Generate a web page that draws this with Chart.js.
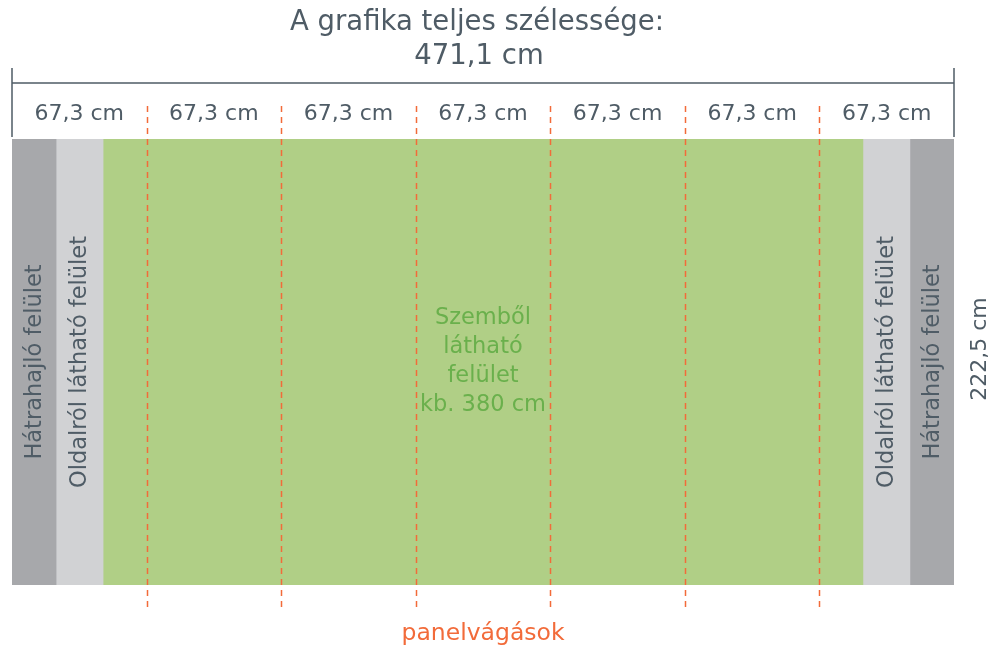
<!DOCTYPE html>
<html>
<head>
<meta charset="utf-8">
<script src="https://cdn.jsdelivr.net/npm/chart.js@4/dist/chart.umd.min.js"></script>
<style>
  body { margin: 0; background: #fff; }
  #wrap { width: 992px; height: 648px; }
</style>
</head>
<body>
<div id="wrap"><canvas id="graphic" width="992" height="648"></canvas></div>
<script>
// sizes in cm
const totalWidth = 471.1;
const totalHeight = 222.5;
const bandNames = ['Hátrahajló felület', 'Oldalról látható felület', 'Szemből látható felület', 'Oldalról látható felület', 'Hátrahajló felület'];
const bandWidths = [22.05, 23.5, 380, 23.5, 22.05];
const bandColors = ['#a7a8ab', '#d1d2d4', '#b0cf86', '#d1d2d4', '#a7a8ab'];
const panelWidths = [67.3, 67.3, 67.3, 67.3, 67.3, 67.3, 67.3];
const panelLabels = ['67,3 cm', '67,3 cm', '67,3 cm', '67,3 cm', '67,3 cm', '67,3 cm', '67,3 cm'];
const titleLines = ['A grafika teljes szélessége:', '471,1 cm'];
const heightLabel = '222,5 cm';
const frontLines = ['Szemből', 'látható', 'felület', 'kb. 380 cm'];
const cutLabel = 'panelvágások';

const textColor = '#4f5c66';
const cutColor = '#f26b3a';
const fontFam = '"DejaVu Sans", sans-serif';

const datasets = bandWidths.map((w, i) => ({
    label: bandNames[i],
    data: [w],
    backgroundColor: bandColors[i],
    borderWidth: 0,
    barPercentage: 1,
    categoryPercentage: 1
}));

const overlay = {
    id: 'overlay',
    afterDatasetsDraw(chart) {
        const ctx = chart.ctx;
        const xs = chart.scales.x;
        const area = chart.chartArea;
        const left = xs.getPixelForValue(0);
        const right = xs.getPixelForValue(totalWidth);
        const midX = (left + right) / 2;
        const midY = (area.top + area.bottom) / 2;

        ctx.save();
        // width bracket
        ctx.strokeStyle = textColor;
        ctx.lineWidth = 1.5;
        ctx.beginPath();
        ctx.moveTo(left, 83); ctx.lineTo(right, 83);
        ctx.moveTo(left, 68); ctx.lineTo(left, 137);
        ctx.moveTo(right, 68); ctx.lineTo(right, 137);
        ctx.stroke();

        // panel cuts
        ctx.strokeStyle = cutColor;
        ctx.lineWidth = 1.5;
        ctx.setLineDash([6, 5]);
        let acc = 0;
        for (let i = 0; i < panelWidths.length - 1; i++) {
            acc += panelWidths[i];
            const px = Math.round(xs.getPixelForValue(acc)) + 0.5;
            ctx.beginPath();
            ctx.moveTo(px, 106);
            ctx.lineTo(px, 612);
            ctx.stroke();
        }
        ctx.setLineDash([]);

        ctx.textAlign = 'center';
        ctx.textBaseline = 'middle';

        // title
        ctx.fillStyle = textColor;
        ctx.font = '27.5px ' + fontFam;
        ctx.fillText(titleLines[0], midX - 6, 23);
        ctx.fillText(titleLines[1], midX - 4, 57);

        // panel widths
        ctx.font = '22px ' + fontFam;
        acc = 0;
        panelWidths.forEach((w, i) => {
            const cx = xs.getPixelForValue(acc + w / 2);
            ctx.fillText(panelLabels[i], cx, 114);
            acc += w;
        });

        // side bands, rotated
        ctx.font = '22.5px ' + fontFam;
        acc = 0;
        bandWidths.forEach((w, i) => {
            const cx = xs.getPixelForValue(acc + w / 2);
            acc += w;
            if (i === 2) return;
            ctx.save();
            ctx.translate(cx + 1, midY);
            ctx.rotate(-Math.PI / 2);
            ctx.fillText(bandNames[i], 0, 0);
            ctx.restore();
        });

        // front surface
        ctx.fillStyle = '#6ab04c';
        ctx.font = '22.5px ' + fontFam;
        frontLines.forEach((t, i) => ctx.fillText(t, midX, 318 + i * 29));

        // height
        ctx.fillStyle = textColor;
        ctx.font = '22px ' + fontFam;
        ctx.save();
        ctx.translate(980, 349);
        ctx.rotate(-Math.PI / 2);
        ctx.fillText(heightLabel, 0, 0);
        ctx.restore();

        // cuts label
        ctx.fillStyle = cutColor;
        ctx.font = '23.5px ' + fontFam;
        ctx.fillText(cutLabel, midX, 634);
        ctx.restore();
    }
};

new Chart(document.getElementById('graphic').getContext('2d'), {
    type: 'bar',
    data: { labels: ['grafika'], datasets: datasets },
    options: {
        indexAxis: 'y',
        responsive: false,
        animation: false,
        layout: { padding: { left: 12, right: 38, top: 139, bottom: 63 } },
        scales: {
            x: { type: 'linear', stacked: true, min: 0, max: totalWidth, display: false },
            y: { stacked: true, display: false }
        },
        plugins: {
            legend: { display: false },
            tooltip: { enabled: false }
        }
    },
    plugins: [overlay]
});
</script>
</body>
</html>
